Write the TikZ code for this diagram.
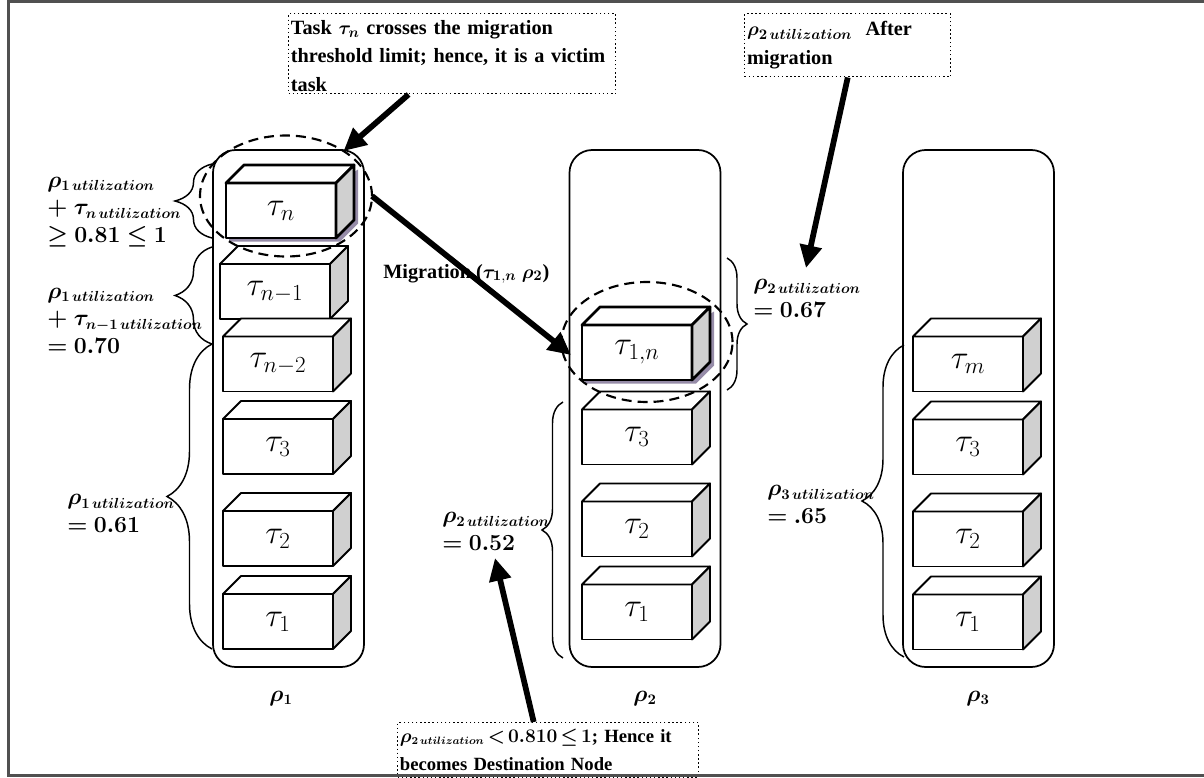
\documentclass[tikz,border=0pt]{standalone}
\usepackage{amsmath,amssymb,bm}
\usepackage[no-math]{fontspec}
\setmainfont{Liberation Serif}
\usetikzlibrary{shapes.geometric,arrows.meta,decorations.pathreplacing,calc}
\DeclareMathSizes{17}{17}{10.5}{8}

\definecolor{sidegray}{RGB}{208,208,208}
\definecolor{shadowc}{RGB}{150,140,168}
\definecolor{framec}{RGB}{80,80,80}

\newcommand\utl{\boldsymbol{utilization}}
\newcommand\brho[1]{\boldsymbol{\rho}_{\mathbf{#1}\,\utl}}

% one task drawn as a 3-D block: front face (named node), top face, grey side face
% #1 extra style, #2 name, #3 x, #4 y, #5 label
\newcommand\taskbox[5][]{%
  \node[tbox,#1] (#2) at (#3,#4) {#5};
  \draw[tface,#1] (#2.north west) -- ++(18,-18) -- ++(110,0) -- (#2.north east) -- cycle;
  \draw[tside,#1] (#2.north east) -- ++(18,-18) -- ++(0,55) -- (#2.south east) -- cycle;
}
% soft purple shadow under a highlighted block
\newcommand\taskshadow[2]{%
  \fill[shadowc] (#1-52,#2+31) -- (#1+59,#2+31) -- (#1+77,#2+13) -- (#1+77,#2-41) -- (#1+55,#2-27) -- (#1-52,#2+27) -- cycle;
}

\begin{document}
\begin{tikzpicture}[x=0.75pt,y=-0.75pt,
  tbox/.style={draw, line width=1.4pt, fill=white, minimum width=82.5pt,
    minimum height=41.25pt, inner sep=0pt, outer sep=0pt, line join=round,
    font=\fontsize{24}{24}\selectfont},
  tface/.style={draw, line width=1.4pt, fill=white, line join=round},
  tside/.style={draw, line width=1.4pt, fill=sidegray, line join=round},
  hot/.style={line width=2.1pt},
  colbox/.style={draw, line width=1.3pt, rounded corners=17pt, minimum width=113.25pt,
    minimum height=387.75pt, inner sep=0pt, outer sep=0pt},
  ring/.style={ellipse, draw, dash pattern=on 7.5pt off 4.5pt, line width=1.6pt,
    inner sep=0pt, outer sep=0pt},
  callout/.style={draw, dotted, line width=1.1pt, anchor=north west, align=left,
    inner xsep=1.5pt, inner ysep=0pt, font=\bfseries\fontsize{15.2}{21.5}\selectfont},
  bracefmt/.style={decorate, line width=1.1pt},
  bigarrow/.style={line width=4.3pt, -{Triangle[length=17pt,width=16pt]}},
  lbl/.style={anchor=base west, align=left, inner sep=0pt, font=\fontsize{17}{20.5}\selectfont},
  collbl/.style={anchor=base, inner sep=0pt, font=\fontsize{17}{17}\selectfont},
]
\useasboundingbox (0,0) rectangle (1204,778);
\clip (0,0) rectangle (1204,778);

% processor columns
\node[colbox] (c1) at (288.5,408.5) {};
\node[colbox] (c2) at (645,408.5) {};
\node[colbox] (c3) at (978.5,408.5) {};

% tasks on processor 1
\taskshadow{281}{210.5}
\taskbox[hot]{t1n}{281}{210.5}{$\tau_{n}$}
\taskbox{t1n1}{275}{291.5}{$\tau_{n-1}$}
\taskbox{t1n2}{278}{364}{$\tau_{n-2}$}
\taskbox{t13}{278}{446.5}{$\tau_{3}$}
\taskbox{t12}{278}{538.5}{$\tau_{2}$}
\taskbox{t11}{278}{621.5}{$\tau_{1}$}

% tasks on processor 2
\taskshadow{637}{352.5}
\taskbox[hot]{t2n}{637}{352.5}{$\tau_{1,n}$}
\taskbox{t23}{637}{437}{$\tau_{3}$}
\taskbox{t22}{637}{529}{$\tau_{2}$}
\taskbox{t21}{637}{612}{$\tau_{1}$}

% tasks on processor 3
\taskbox{t3m}{968}{364}{$\tau_{m}$}
\taskbox{t33}{968}{447}{$\tau_{3}$}
\taskbox{t32}{968}{539}{$\tau_{2}$}
\taskbox{t31}{968}{622}{$\tau_{1}$}

% dashed rings around the migrating task
\node[ring, minimum width=129pt, minimum height=90.75pt] (e1) at (286,196) {};
\node[ring, minimum width=128.25pt, minimum height=90pt] (e2) at (647,342) {};

% braces
\draw[bracefmt, decoration={brace, amplitude=27.75pt}] (212,238) -- (212,164);
\draw[bracefmt, decoration={brace, amplitude=27.75pt}] (212,344) -- (212,247);
\draw[bracefmt, decoration={brace, amplitude=33.75pt}] (212,649) -- (212,344);
\draw[bracefmt, decoration={brace, amplitude=15.75pt}] (563,658) -- (563,402);
\draw[bracefmt, decoration={brace, amplitude=15pt}] (727,258) -- (727,390);
\draw[bracefmt, decoration={brace, amplitude=31.5pt}] (904,657) -- (904,345);

% utilisation labels (anchored on the baseline of their last line)
\node[lbl] (u1) at (47,242) {$\brho{1}$\\$\boldsymbol{+}\;\boldsymbol{\tau}_{\boldsymbol{n}\,\utl}$\\$\boldsymbol{\geq 0.81 \leq 1}$};
\node[lbl] (u2) at (47,353) {$\brho{1}$\\$\boldsymbol{+}\;\boldsymbol{\tau}_{\boldsymbol{n-1}\,\utl}$\\$\boldsymbol{= 0.70}$};
\node[lbl] (u3) at (67,532) {$\brho{1}$\\$\boldsymbol{= 0.61}$};
\node[lbl] (u4) at (442,550) {$\brho{2}$\\$\boldsymbol{= 0.52}$};
\node[lbl] (u5) at (753,317) {$\brho{2}$\\$\boldsymbol{= 0.67}$};
\node[lbl] (u6) at (767,523) {$\brho{3}$\\$\boldsymbol{=.65}$};

\node[lbl, font=\bfseries\fontsize{15.2}{16}\selectfont] (mig) at (383,278)
  {Migration ($\boldsymbol{\tau}_{\mathbf{1},\boldsymbol{n}}\;\boldsymbol{\rho}_{\mathbf{2}}$)};

% processor names
\node[collbl] (p1) at (281,701) {$\boldsymbol{\rho}_{\mathbf{1}}$};
\node[collbl] (p2) at (645,701) {$\boldsymbol{\rho}_{\mathbf{2}}$};
\node[collbl] (p3) at (978,701) {$\boldsymbol{\rho}_{\mathbf{3}}$};

% dotted notes
\node[callout, minimum width=245.25pt, minimum height=60pt, text width=242pt] (noteA) at (288,13)
  {\rule{0pt}{14pt}Task $\boldsymbol{\tau}_{\boldsymbol{n}}$ crosses the migration\\threshold limit; hence, it is a victim\\task};
\node[callout, minimum width=154.5pt, minimum height=47.25pt, text width=151pt] (noteB) at (744,13)
  {$\brho{2}$ \ After\\migration};
\node[callout, minimum width=225.75pt, text width=222.5pt, inner ysep=4.5pt,
  font=\bfseries\fontsize{14}{21.5}\selectfont] (noteC) at (397,722)
  {\mbox{{\fontsize{15.5}{21.5}\selectfont\thickmuskip=3mu$\boldsymbol{\rho}_{\mbox{\fontsize{8}{8}\selectfont$\mathbf{2}\,\utl$}}\boldsymbol{< 0.810 \leq 1}$}; Hence it}\\becomes Destination Node};

% free ends of the arrows
\coordinate (tipMig) at (571,355);
\coordinate (tip67) at (806,268);
\coordinate (tip52) at (495,558);

% arrows
\draw[bigarrow] ($(noteA.south west)!0.367!(noteA.south east)$) -- (e1.38);
\draw[bigarrow] (e1.east) -- (tipMig);
\draw[bigarrow] (noteB.south) -- (tip67);
\draw[bigarrow] ($(noteC.north west)!0.452!(noteC.north east)$) -- (tip52);

% page frame
\draw[framec, line width=1.6pt] (1204,1.5) -- (8.5,1.5) -- (8.5,775.5) -- (1204,775.5);
\end{tikzpicture}
\end{document}
